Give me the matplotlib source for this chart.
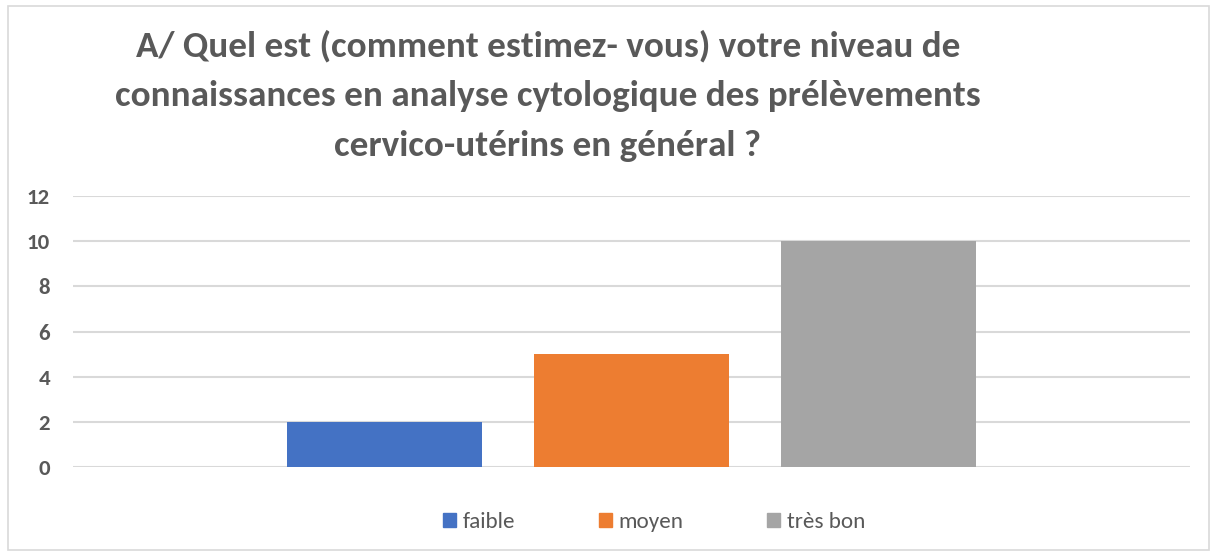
import matplotlib
matplotlib.use("Agg")
import matplotlib.pyplot as plt
from matplotlib.patches import Rectangle, Patch

title = "A/ Quel est (comment estimez- vous) votre niveau de\nconnaissances en analyse cytologique des prélèvements\ncervico-utérins en général ?"
series = ["faible", "moyen", "très bon"]
values = [2, 5, 10]
colors = ["#4472C4", "#ED7D31", "#A5A5A5"]
yticks = [0, 2, 4, 6, 8, 10, 12]

plt.rcParams['font.family'] = ['Carlito', 'DejaVu Sans']

W, H = 1215, 553
fig = plt.figure(figsize=(W/100, H/100), dpi=100)

# outer chart border
fig.patches.append(Rectangle((8/W, 3/H), 1201/W, 544/H, transform=fig.transFigure,
                             fill=False, edgecolor="#D9D9D9", linewidth=1.2))

ax = fig.add_axes([73/W, 1-467/H, (1190-73)/W, (467-196)/H])
step = 1.0
width = 195/247.5
for i, (name, v, c) in enumerate(zip(series, values, colors)):
    ax.bar((i-1)*step, v, width, color=c, label=name, zorder=3)

ax.set_xlim(-2.2566, 2.2566)
ax.set_ylim(0, 12)
ax.set_yticks(yticks)
ax.set_xticks([])
ax.grid(axis='y', color="#D9D9D9", linewidth=1.5, zorder=0)
for s in ax.spines.values():
    s.set_visible(False)
ax.tick_params(axis='y', length=0, pad=16.5, labelcolor="#595959", labelsize=16.5)
for lab in ax.get_yticklabels():
    lab.set_fontweight("bold")

fig.text(548/W, 1-96/H, title, ha='center', va='center', fontsize=26.7,
         fontweight='bold', color="#595959", linespacing=1.67)

handles = [Patch(color=c, label=n) for n, c in zip(series, colors)]
fig.legend(handles=handles, loc='center', bbox_to_anchor=(654/W, 1-522/H), ncol=3,
           frameon=False, prop={'size': 16.7},
           labelcolor="#595959", handlelength=0.56, handleheight=0.56,
           handletextpad=0.3, columnspacing=3.58)

fig.savefig("out.png", dpi=100)
